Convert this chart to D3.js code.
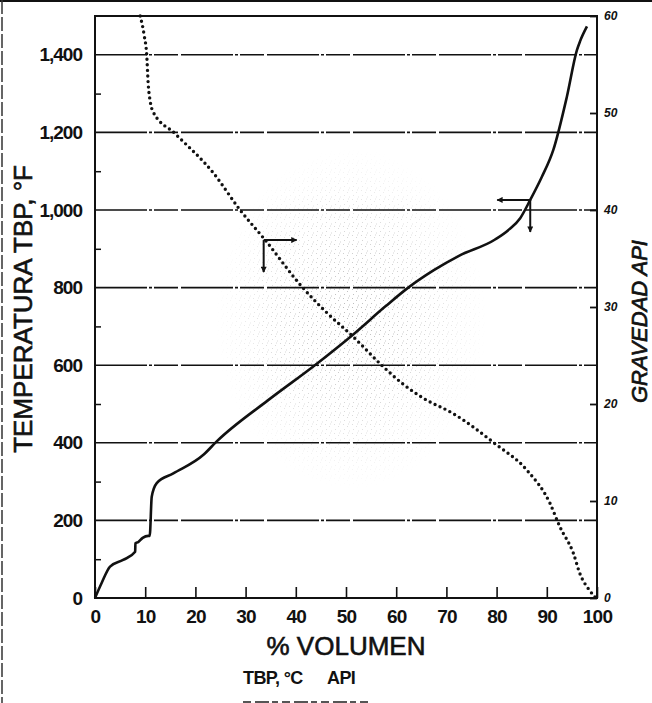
<!DOCTYPE html>
<html>
<head>
<meta charset="utf-8">
<script src="https://cdn.jsdelivr.net/npm/d3@7"></script>
<style>
  body { margin: 0; background: #fff; }
  svg { display: block; font-family: "Liberation Sans", Arial, sans-serif; }
</style>
</head>
<body>
<div id="chart"></div>
<script>
    // TBP curve (left axis, deg F) vs % volume
    const tbpPct = [0, 1.3, 3.0, 5.6, 8.0, 8.05, 8.6, 9.5, 10.6, 10.9, 11.3, 12.3, 15.6, 21.6, 24.2, 34.5, 43.8, 51.5, 57.8, 62.4, 67.5, 72.5, 79.7, 82.5, 84.7, 86.7, 89, 91.3, 94, 96, 96.6, 98];
    const tbpF   = [0, 38, 81, 98, 119, 141, 144, 155, 160, 160, 261, 296, 321, 369, 403, 510, 600, 680, 751, 800, 845, 882, 924, 950, 979, 1026, 1085, 1155, 1292, 1412, 1434, 1473];

    // API gravity curve (right axis) vs % volume
    const apiPct = [9.0, 9.8, 10.3, 10.6, 11.0, 11.6, 15.9, 23.6, 28.9, 33.9, 41.2, 46.0, 51.5, 57.1, 61.5, 65.4, 71.4, 79.7, 86.0, 90.6, 92.6, 95.3, 96.6, 98.5, 99.6];
    const apiVal = [60, 58, 56, 53, 51.2, 50.1, 47.9, 43.8, 40, 36.9, 32.1, 29.5, 26.9, 24, 22, 20.6, 19, 15.9, 13.2, 9.8, 7.35, 4.6, 2.5, 0.8, 0.1];

    // tick values
    const xTicks = [0, 10, 20, 30, 40, 50, 60, 70, 80, 90, 100];
    const leftTicks = [0, 200, 400, 600, 800, 1000, 1200, 1400];
    const leftMinor = [100, 300, 500, 700, 900, 1100, 1300];
    const rightTicks = [0, 10, 20, 30, 40, 50, 60];

    // axis-reading arrows: which curve, where, which axis it points to
    const arrowPct = [33.6, 86.7];
    const arrowVal = [36.9, 1026];
    const arrowAxis = ["API", "TBP"];

    const W = 652, H = 703;
    const margin = { top: 16, right: 55, bottom: 105, left: 95 };
    const width = W - margin.left - margin.right;
    const height = H - margin.top - margin.bottom;

    const root = d3.select("#chart").append("svg")
        .attr("width", W)
        .attr("height", H);

    const defs = root.append("defs");

    // speckle texture for the gray stippled area
    const pat = defs.append("pattern")
        .attr("id", "speck")
        .attr("width", 9).attr("height", 9)
        .attr("patternUnits", "userSpaceOnUse");
    [[1, 1], [5, 3], [2, 6], [7, 7.5], [6, 0.5]].forEach(p => {
        pat.append("rect").attr("x", p[0]).attr("y", p[1]).attr("width", 1).attr("height", 1).attr("fill", "#8a8a8a");
    });
    const rg = defs.append("radialGradient").attr("id", "fade");
    rg.append("stop").attr("offset", "0%").attr("stop-color", "#fff").attr("stop-opacity", 0.6);
    rg.append("stop").attr("offset", "60%").attr("stop-color", "#fff").attr("stop-opacity", 0.3);
    rg.append("stop").attr("offset", "100%").attr("stop-color", "#fff").attr("stop-opacity", 0);
    defs.append("mask").attr("id", "fadeMask")
        .attr("maskContentUnits", "userSpaceOnUse")
        .append("rect")
        .attr("x", 0).attr("y", 0).attr("width", W).attr("height", H)
        .attr("fill", "url(#fade)");

    defs.append("marker")
        .attr("id", "head")
        .attr("viewBox", "0 0 10 10")
        .attr("refX", 9).attr("refY", 5)
        .attr("markerWidth", 10).attr("markerHeight", 6)
        .attr("markerUnits", "userSpaceOnUse")
        .attr("orient", "auto")
        .append("path")
        .attr("d", "M0,0 L10,5 L0,10 Z")
        .attr("fill", "#111");

    // scan edges of the page
    root.append("line").attr("x1", 0).attr("x2", W).attr("y1", 1).attr("y2", 1)
        .attr("stroke", "#111").attr("stroke-width", 2);
    root.append("line").attr("x1", 2).attr("x2", 2).attr("y1", 0).attr("y2", H)
        .attr("stroke", "#333").attr("stroke-width", 1.5).attr("stroke-dasharray", "14,3");

    const svg = root.append("g")
        .attr("transform", `translate(${margin.left},${margin.top})`);

    const x = d3.scaleLinear().domain([0, 100]).range([0, width]);
    const yL = d3.scaleLinear().domain([0, 1500]).range([height, 0]);
    const yR = d3.scaleLinear().domain([0, 60]).range([height, 0]);

    // stippled blob
    const blob = svg.append("g").attr("mask", "url(#fadeMask)")
        .attr("transform", `translate(${-margin.left},${-margin.top})`);
    const cx = margin.left + x(51), cy = margin.top + yL(720);
    defs.select("#fade")
        .attr("gradientUnits", "userSpaceOnUse")
        .attr("cx", cx).attr("cy", cy).attr("r", 170)
        .attr("gradientTransform", `translate(${cx},${cy}) scale(0.8,1) translate(${-cx},${-cy})`);
    blob.append("ellipse")
        .attr("cx", cx).attr("cy", cy)
        .attr("rx", 140).attr("ry", 175)
        .attr("fill", "url(#speck)");

    // horizontal grid lines
    svg.append("g").selectAll("line")
        .data(leftTicks.slice(1))
        .enter().append("line")
        .attr("x1", 0).attr("x2", width)
        .attr("y1", d => yL(d)).attr("y2", d => yL(d))
        .attr("stroke", "#111")
        .attr("stroke-width", 1.6)
        .attr("stroke-dasharray", "52,2,3,2,24,3");

    // x axis: ticks pointing up inside the frame
    const xAxis = svg.append("g")
        .attr("transform", `translate(0,${height})`)
        .call(d3.axisBottom(x).tickValues(xTicks).tickSize(-11).tickPadding(12));
    xAxis.select(".domain").remove();
    xAxis.selectAll("line").attr("stroke", "#111").attr("stroke-width", 1.6);
    xAxis.selectAll("text")
        .attr("font-size", 19).attr("font-weight", "bold")
        .attr("letter-spacing", -0.8).attr("fill", "#111")
        .attr("font-family", "'Liberation Sans', Arial, sans-serif");

    // left axis labels
    const yAxis = svg.append("g")
        .call(d3.axisLeft(yL).tickValues(leftTicks).tickSize(0).tickPadding(13).tickFormat(d3.format(",")));
    yAxis.select(".domain").remove();
    yAxis.selectAll("text")
        .attr("font-size", 19).attr("font-weight", "bold")
        .attr("letter-spacing", -1).attr("fill", "#111")
        .attr("font-family", "'Liberation Sans', Arial, sans-serif");

    // left minor ticks
    const yMinor = svg.append("g")
        .call(d3.axisRight(yL).tickValues(leftMinor).tickSize(6).tickFormat(""));
    yMinor.select(".domain").remove();
    yMinor.selectAll("line").attr("stroke", "#111").attr("stroke-width", 1.5);

    // right axis
    const rAxis = svg.append("g")
        .attr("transform", `translate(${width},0)`)
        .call(d3.axisRight(yR).tickValues(rightTicks).tickSize(-7).tickPadding(7));
    rAxis.select(".domain").remove();
    rAxis.selectAll("line").attr("stroke", "#111").attr("stroke-width", 1.8);
    rAxis.selectAll("text")
        .attr("font-size", 12).attr("font-weight", "bold").attr("font-style", "italic")
        .attr("fill", "#111")
        .attr("font-family", "'Liberation Sans', Arial, sans-serif");

    // frame
    svg.append("rect")
        .attr("width", width).attr("height", height)
        .attr("fill", "none").attr("stroke", "#111").attr("stroke-width", 2);

    // TBP solid curve
    const tbpData = tbpPct.map((p, i) => ({ p: p, v: tbpF[i] }));
    svg.append("path")
        .datum(tbpData)
        .attr("fill", "none")
        .attr("stroke", "#111")
        .attr("stroke-width", 2.6)
        .attr("stroke-linejoin", "round")
        .attr("d", d3.line().x(d => x(d.p)).y(d => yL(d.v)).curve(d3.curveMonotoneX));

    // API dotted curve
    const apiData = apiPct.map((p, i) => ({ p: p, v: apiVal[i] }));
    svg.append("path")
        .datum(apiData)
        .attr("fill", "none")
        .attr("stroke", "#111")
        .attr("stroke-width", 3.4)
        .attr("stroke-linecap", "round")
        .attr("stroke-dasharray", "0,5.5")
        .attr("d", d3.line().x(d => x(d.p)).y(d => yR(d.v)).curve(d3.curveMonotoneX));

    // arrows showing which axis each curve reads on
    arrowPct.forEach((p, i) => {
        const ax = x(p);
        const ay = arrowAxis[i] === "API" ? yR(arrowVal[i]) : yL(arrowVal[i]);
        const dir = arrowAxis[i] === "API" ? 1 : -1;
        const g = svg.append("g").attr("stroke", "#111").attr("stroke-width", 2);
        g.append("line").attr("x1", ax).attr("y1", ay).attr("x2", ax + dir * 33).attr("y2", ay)
            .attr("marker-end", "url(#head)");
        g.append("line").attr("x1", ax).attr("y1", ay).attr("x2", ax).attr("y2", ay + 32)
            .attr("marker-end", "url(#head)");
    });

    // axis titles
    root.append("text")
        .attr("transform", `translate(32,${margin.top + yL(745)}) rotate(-90)`)
        .attr("text-anchor", "middle")
        .attr("font-size", 26)
        .attr("fill", "#111")
        .attr("stroke", "#111").attr("stroke-width", 0.6)
        .text("TEMPERATURA TBP, °F");

    root.append("text")
        .attr("transform", `translate(647,${margin.top + yR(28.5)}) rotate(-90)`)
        .attr("text-anchor", "middle")
        .attr("font-size", 22)
        .attr("font-style", "italic")
        .attr("fill", "#111")
        .attr("stroke", "#111").attr("stroke-width", 0.7)
        .text("GRAVEDAD API");

    root.append("text")
        .attr("x", margin.left + x(50))
        .attr("y", 655)
        .attr("text-anchor", "middle")
        .attr("font-size", 26)
        .attr("fill", "#111")
        .attr("stroke", "#111").attr("stroke-width", 0.6)
        .text("% VOLUMEN");

    // caption row below the chart
    root.append("text")
        .attr("x", 243).attr("y", 684)
        .attr("font-size", 18).attr("font-weight", "bold")
        .attr("letter-spacing", -0.6)
        .attr("fill", "#111")
        .text("TBP, °C");
    root.append("text")
        .attr("x", 327).attr("y", 684)
        .attr("font-size", 18).attr("font-weight", "bold")
        .attr("letter-spacing", -0.6)
        .attr("fill", "#111")
        .text("API");
    root.append("line")
        .attr("x1", 243).attr("x2", 372).attr("y1", 702).attr("y2", 702)
        .attr("stroke", "#555").attr("stroke-width", 2)
        .attr("stroke-dasharray", "8,4,14,3,6,4");
</script>
</body>
</html>
